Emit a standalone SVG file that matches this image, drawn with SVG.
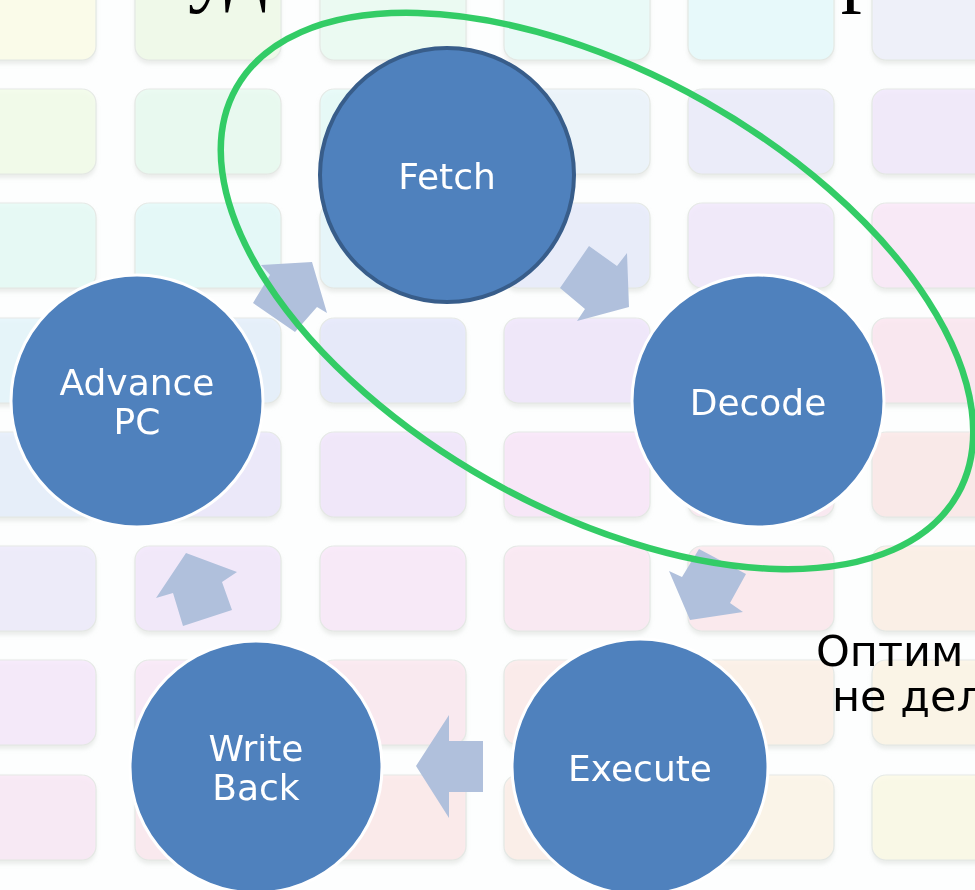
<svg xmlns="http://www.w3.org/2000/svg" width="975" height="890" viewBox="0 0 975 890">
<defs>
<style>
.tile{stroke:#e2e6e2;stroke-width:1.2;opacity:0.85}
.sh{fill:#d8dcd8;opacity:0.5}
.arr{fill:#b0c0dc}
.node{fill:#4f81bd;stroke:#ffffff;stroke-width:3}
.lbl{fill:#ffffff;font-family:"DejaVu Sans",sans-serif;font-size:36px;text-anchor:middle}
.ttl{fill:#000000;font-family:"Liberation Serif",serif;font-size:84px}
.side{fill:#000000;font-family:"DejaVu Sans",sans-serif;font-size:43px}
</style>
<filter id="blur" x="-10%" y="-10%" width="120%" height="130%"><feGaussianBlur stdDeviation="2"/></filter>
</defs>
<rect x="0" y="0" width="975" height="890" fill="#fdfefe"/>
<g id="tiles" filter="url(#blur)">
<rect class="sh" x="-50" y="-22" width="146" height="86" rx="14"/><rect class="sh" x="135" y="-22" width="146" height="86" rx="14"/><rect class="sh" x="320" y="-22" width="146" height="86" rx="14"/><rect class="sh" x="504" y="-22" width="146" height="86" rx="14"/><rect class="sh" x="688" y="-22" width="146" height="86" rx="14"/><rect class="sh" x="872" y="-22" width="146" height="86" rx="14"/>
<rect class="sh" x="-50" y="92" width="146" height="86" rx="14"/><rect class="sh" x="135" y="92" width="146" height="86" rx="14"/><rect class="sh" x="320" y="92" width="146" height="86" rx="14"/><rect class="sh" x="504" y="92" width="146" height="86" rx="14"/><rect class="sh" x="688" y="92" width="146" height="86" rx="14"/><rect class="sh" x="872" y="92" width="146" height="86" rx="14"/>
<rect class="sh" x="-50" y="206" width="146" height="86" rx="14"/><rect class="sh" x="135" y="206" width="146" height="86" rx="14"/><rect class="sh" x="320" y="206" width="146" height="86" rx="14"/><rect class="sh" x="504" y="206" width="146" height="86" rx="14"/><rect class="sh" x="688" y="206" width="146" height="86" rx="14"/><rect class="sh" x="872" y="206" width="146" height="86" rx="14"/>
<rect class="sh" x="-50" y="321" width="146" height="86" rx="14"/><rect class="sh" x="135" y="321" width="146" height="86" rx="14"/><rect class="sh" x="320" y="321" width="146" height="86" rx="14"/><rect class="sh" x="504" y="321" width="146" height="86" rx="14"/><rect class="sh" x="688" y="321" width="146" height="86" rx="14"/><rect class="sh" x="872" y="321" width="146" height="86" rx="14"/>
<rect class="sh" x="-50" y="435" width="146" height="86" rx="14"/><rect class="sh" x="135" y="435" width="146" height="86" rx="14"/><rect class="sh" x="320" y="435" width="146" height="86" rx="14"/><rect class="sh" x="504" y="435" width="146" height="86" rx="14"/><rect class="sh" x="688" y="435" width="146" height="86" rx="14"/><rect class="sh" x="872" y="435" width="146" height="86" rx="14"/>
<rect class="sh" x="-50" y="549" width="146" height="86" rx="14"/><rect class="sh" x="135" y="549" width="146" height="86" rx="14"/><rect class="sh" x="320" y="549" width="146" height="86" rx="14"/><rect class="sh" x="504" y="549" width="146" height="86" rx="14"/><rect class="sh" x="688" y="549" width="146" height="86" rx="14"/><rect class="sh" x="872" y="549" width="146" height="86" rx="14"/>
<rect class="sh" x="-50" y="663" width="146" height="86" rx="14"/><rect class="sh" x="135" y="663" width="146" height="86" rx="14"/><rect class="sh" x="320" y="663" width="146" height="86" rx="14"/><rect class="sh" x="504" y="663" width="146" height="86" rx="14"/><rect class="sh" x="688" y="663" width="146" height="86" rx="14"/><rect class="sh" x="872" y="663" width="146" height="86" rx="14"/>
<rect class="sh" x="-50" y="778" width="146" height="86" rx="14"/><rect class="sh" x="135" y="778" width="146" height="86" rx="14"/><rect class="sh" x="320" y="778" width="146" height="86" rx="14"/><rect class="sh" x="504" y="778" width="146" height="86" rx="14"/><rect class="sh" x="688" y="778" width="146" height="86" rx="14"/><rect class="sh" x="872" y="778" width="146" height="86" rx="14"/>
</g>
<g id="tilefaces">
<rect class="tile" x="-50" y="-25" width="146" height="85" rx="14" fill="#fdfde9"/><rect class="tile" x="135" y="-25" width="146" height="85" rx="14" fill="#f0fbe9"/><rect class="tile" x="320" y="-25" width="146" height="85" rx="14" fill="#ebfcf4"/><rect class="tile" x="504" y="-25" width="146" height="85" rx="14" fill="#e9fcfa"/><rect class="tile" x="688" y="-25" width="146" height="85" rx="14" fill="#e7fbfd"/><rect class="tile" x="872" y="-25" width="146" height="85" rx="14" fill="#eff0fc"/>
<rect class="tile" x="-50" y="89" width="146" height="85" rx="14" fill="#f3fce9"/><rect class="tile" x="135" y="89" width="146" height="85" rx="14" fill="#e8fbf0"/><rect class="tile" x="320" y="89" width="146" height="85" rx="14" fill="#e6fbf8"/><rect class="tile" x="504" y="89" width="146" height="85" rx="14" fill="#ecf4fc"/><rect class="tile" x="688" y="89" width="146" height="85" rx="14" fill="#ecebfc"/><rect class="tile" x="872" y="89" width="146" height="85" rx="14" fill="#f1e8fc"/>
<rect class="tile" x="-50" y="203" width="146" height="85" rx="14" fill="#e6fbf6"/><rect class="tile" x="135" y="203" width="146" height="85" rx="14" fill="#e3fafa"/><rect class="tile" x="320" y="203" width="146" height="85" rx="14" fill="#e5f6fc"/><rect class="tile" x="504" y="203" width="146" height="85" rx="14" fill="#e8ecfc"/><rect class="tile" x="688" y="203" width="146" height="85" rx="14" fill="#f1e8fc"/><rect class="tile" x="872" y="203" width="146" height="85" rx="14" fill="#fbe8f8"/>
<rect class="tile" x="-50" y="318" width="146" height="85" rx="14" fill="#e4f5fc"/><rect class="tile" x="135" y="318" width="146" height="85" rx="14" fill="#e4effc"/><rect class="tile" x="320" y="318" width="146" height="85" rx="14" fill="#e6e8fc"/><rect class="tile" x="504" y="318" width="146" height="85" rx="14" fill="#f0e6fc"/><rect class="tile" x="688" y="318" width="146" height="85" rx="14" fill="#f7e6fb"/><rect class="tile" x="872" y="318" width="146" height="85" rx="14" fill="#fce6f0"/>
<rect class="tile" x="-50" y="432" width="146" height="85" rx="14" fill="#e6eefc"/><rect class="tile" x="135" y="432" width="146" height="85" rx="14" fill="#ebe7fc"/><rect class="tile" x="320" y="432" width="146" height="85" rx="14" fill="#f1e6fc"/><rect class="tile" x="504" y="432" width="146" height="85" rx="14" fill="#f9e6fa"/><rect class="tile" x="688" y="432" width="146" height="85" rx="14" fill="#fce8f2"/><rect class="tile" x="872" y="432" width="146" height="85" rx="14" fill="#fce8e8"/>
<rect class="tile" x="-50" y="546" width="146" height="85" rx="14" fill="#eeeafc"/><rect class="tile" x="135" y="546" width="146" height="85" rx="14" fill="#f2e7fc"/><rect class="tile" x="320" y="546" width="146" height="85" rx="14" fill="#f9e8fa"/><rect class="tile" x="504" y="546" width="146" height="85" rx="14" fill="#fce8f4"/><rect class="tile" x="688" y="546" width="146" height="85" rx="14" fill="#fde8ee"/><rect class="tile" x="872" y="546" width="146" height="85" rx="14" fill="#fdefe6"/>
<rect class="tile" x="-50" y="660" width="146" height="85" rx="14" fill="#f6e8fc"/><rect class="tile" x="135" y="660" width="146" height="85" rx="14" fill="#fae8f8"/><rect class="tile" x="320" y="660" width="146" height="85" rx="14" fill="#fce8f0"/><rect class="tile" x="504" y="660" width="146" height="85" rx="14" fill="#fdeaea"/><rect class="tile" x="688" y="660" width="146" height="85" rx="14" fill="#fdf0e7"/><rect class="tile" x="872" y="660" width="146" height="85" rx="14" fill="#fdf5e6"/>
<rect class="tile" x="-50" y="775" width="146" height="85" rx="14" fill="#fae8f6"/><rect class="tile" x="135" y="775" width="146" height="85" rx="14" fill="#fce8ef"/><rect class="tile" x="320" y="775" width="146" height="85" rx="14" fill="#fde9ea"/><rect class="tile" x="504" y="775" width="146" height="85" rx="14" fill="#fdeee8"/><rect class="tile" x="688" y="775" width="146" height="85" rx="14" fill="#fdf5e8"/><rect class="tile" x="872" y="775" width="146" height="85" rx="14" fill="#fcfae6"/>
</g>
<g id="title">
<text class="ttl" x="170" y="-4" text-anchor="end">этапы</text>
<text class="ttl" x="188" y="-4">удаётся</text>
<text class="ttl" x="496" y="-4">оптимизировать</text>
</g>
<g id="connectors">
<polygon class="arr" points="560,288 589,246 617,266 627,253 629,307 577,321 585,309"/>
<polygon class="arr" points="699,549 746,574 730,603 743,612 690,620 669,571 682,577"/>
<polygon class="arr" points="416,766 449,715 449,741 483,741 483,792 449,792 449,818"/>
<polygon class="arr" points="186,553 237,572 222,582 232,610 183,626 173,593 156,598"/>
<polygon class="arr" points="312,262 327,313 317,307 295,332 253,303 270,275 261,265"/>
</g>
<g id="fetch">
<circle cx="447" cy="175" r="127" fill="#4f81bd" stroke="#385d8a" stroke-width="4"/>
<text class="lbl" x="447" y="189">Fetch</text>
</g>
<g id="decode">
<circle class="node" cx="758" cy="401" r="126"/>
<text class="lbl" x="758" y="415">Decode</text>
</g>
<g id="execute">
<circle class="node" cx="640" cy="767" r="128"/>
<text class="lbl" x="640" y="781">Execute</text>
</g>
<g id="writeback">
<circle class="node" cx="256" cy="767" r="126"/>
<text class="lbl" x="256" y="761">Write</text>
<text class="lbl" x="256" y="800">Back</text>
</g>
<g id="advancepc">
<circle class="node" cx="137" cy="401" r="126"/>
<text class="lbl" x="137" y="395">Advance</text>
<text class="lbl" x="137" y="434">PC</text>
</g>
<g id="highlight">
<ellipse cx="597" cy="291" rx="414" ry="218" transform="rotate(29.4 597 291)" fill="none" stroke="#33cc66" stroke-width="6.5"/>
</g>
<g id="sidenote">
<text class="side" x="816" y="666">Оптим</text>
<text class="side" x="832" y="711">не дел</text>
</g>
</svg>
